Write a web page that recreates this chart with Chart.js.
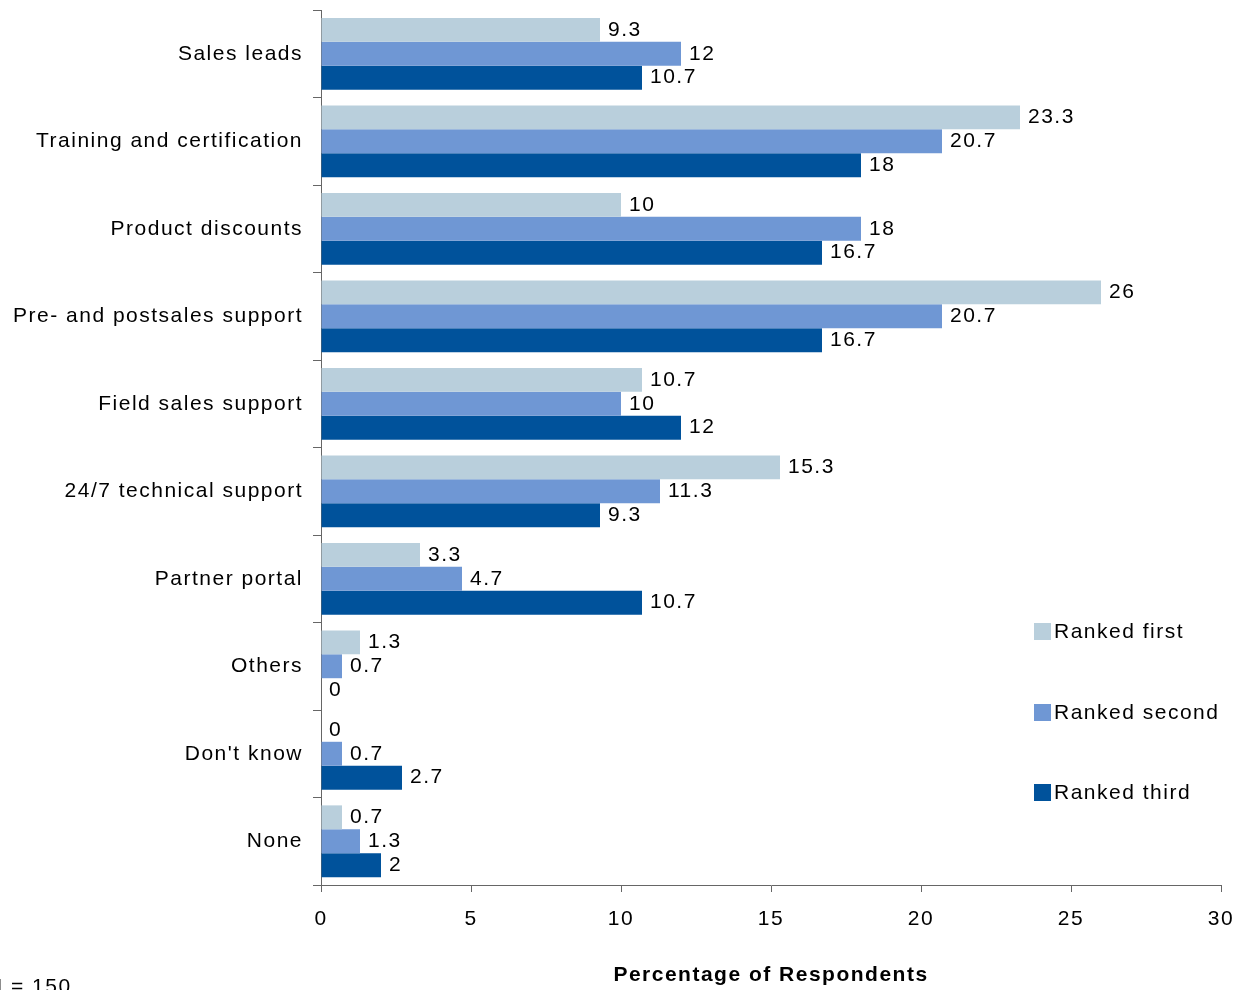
<!DOCTYPE html>
<html>
<head>
<meta charset="utf-8">
<script src="https://cdn.jsdelivr.net/npm/chart.js@4.4.1/dist/chart.umd.min.js"></script>
<style>
  html, body { margin: 0; padding: 0; background: #fff; overflow: hidden; }
  #wrap { position: relative; width: 1237px; height: 990px; }
  #legend { position: absolute; left: 1034px; top: 619px; font: 21px "Liberation Sans", Arial, sans-serif; letter-spacing: 1.5px; color: #000; }
  #legend .item { position: absolute; left: 0; white-space: nowrap; height: 24px; line-height: 24px; }
  #legend .box { display: inline-block; width: 17px; height: 17px; vertical-align: -2px; margin-right: 3px; }
  #note { position: absolute; left: -13px; top: 974px; font: 21px "Liberation Sans", Arial, sans-serif; letter-spacing: 1.5px; white-space: nowrap; }
</style>
</head>
<body>
<div id="wrap">
  <canvas id="grafico-apoyo" width="1237" height="990"></canvas>
  <div id="legend"></div>
  <div id="note">N = 150</div>
</div>
<script>
// Categories and values (percent of respondents)
const categorias = ['Sales leads', 'Training and certification', 'Product discounts', 'Pre- and postsales support',
    'Field sales support', '24/7 technical support', 'Partner portal', 'Others', "Don't know", 'None'];
const rankedFirst  = [9.3, 23.3, 10, 26, 10.7, 15.3, 3.3, 1.3, 0, 0.7];
const rankedSecond = [12, 20.7, 18, 20.7, 10, 11.3, 4.7, 0.7, 0.7, 1.3];
const rankedThird  = [10.7, 18, 16.7, 16.7, 12, 9.3, 10.7, 0, 2.7, 2];
const seriesNames  = ['Ranked first', 'Ranked second', 'Ranked third'];
const xTicksMax = 30;
const xTicksStep = 5;

var fontFamily = '"Liberation Sans", Arial, sans-serif';
var espaciado = '1.5px';
var colores = ['rgb(185, 207, 220)', 'rgb(111, 151, 212)', 'rgb(0, 82, 155)'];

// loose letter spacing on all canvas text (set again after each resize)
const espaciadoTexto = {
    id: 'espaciadoTexto',
    beforeLayout(chart) { chart.ctx.letterSpacing = espaciado; },
    beforeDraw(chart) { chart.ctx.letterSpacing = espaciado; }
};

// value labels drawn at the end of each bar
const valueLabels = {
    id: 'valueLabels',
    afterDatasetsDraw(chart) {
        const ctx = chart.ctx;
        ctx.save();
        ctx.font = '21px ' + fontFamily;
        ctx.fillStyle = '#000';
        ctx.textBaseline = 'middle';
        ctx.textAlign = 'left';
        chart.data.datasets.forEach(function(ds, i) {
            chart.getDatasetMeta(i).data.forEach(function(bar, j) {
                ctx.fillText(String(ds.data[j]), bar.x + 8, bar.y);
            });
        });
        ctx.restore();
    }
};

const data = {
    labels: categorias,
    datasets: [rankedFirst, rankedSecond, rankedThird].map(function(serie, i) {
        return {
            label: seriesNames[i],
            data: serie,
            backgroundColor: colores[i],
            borderWidth: 0,
            categoryPercentage: 0.82,
            barPercentage: 1.0
        };
    })
};

const config = {
    type: 'bar',
    data: data,
    options: {
        indexAxis: 'y',
        responsive: false,
        animation: false,
        layout: { padding: { top: 10, right: 16, left: 0, bottom: 0 } },
        plugins: {
            legend: { display: false },
            title: { display: false },
            tooltip: { enabled: false }
        },
        scales: {
            x: {
                min: 0,
                max: xTicksMax,
                ticks: { stepSize: xTicksStep, color: '#000', font: { family: fontFamily, size: 21 }, padding: 15 },
                grid: { drawOnChartArea: false, tickLength: 7, color: '#666' },
                border: { display: true, color: '#666' },
                title: {
                    display: true,
                    text: 'Percentage of Respondents',
                    color: '#000',
                    font: { family: fontFamily, size: 21, weight: 'bold' },
                    padding: { top: 0, bottom: 2 }
                },
                afterFit: function(scale) {
                    scale.height = 105;
                    scale.paddingLeft = 0;
                    scale.paddingRight = 0;
                }
            },
            y: {
                ticks: { color: '#000', font: { family: fontFamily, size: 21 }, padding: 10 },
                grid: { drawOnChartArea: false, tickLength: 8, color: '#666', offset: true },
                border: { display: true, color: '#666' },
                afterFit: function(scale) {
                    scale.width = 321;
                    scale.paddingTop = 0;
                    scale.paddingBottom = 0;
                }
            }
        }
    },
    plugins: [espaciadoTexto, valueLabels]
};

var myChart = new Chart(document.getElementById('grafico-apoyo'), config);

// legend at the lower right
var legend = document.getElementById('legend');
var legendTops = [0, 81, 161];
myChart.data.datasets.forEach(function(ds, i) {
    var item = document.createElement('div');
    item.className = 'item';
    item.style.top = legendTops[i] + 'px';
    item.innerHTML = '<span class="box" style="background:' + ds.backgroundColor + '"></span>' + ds.label;
    legend.appendChild(item);
});
</script>
</body>
</html>
